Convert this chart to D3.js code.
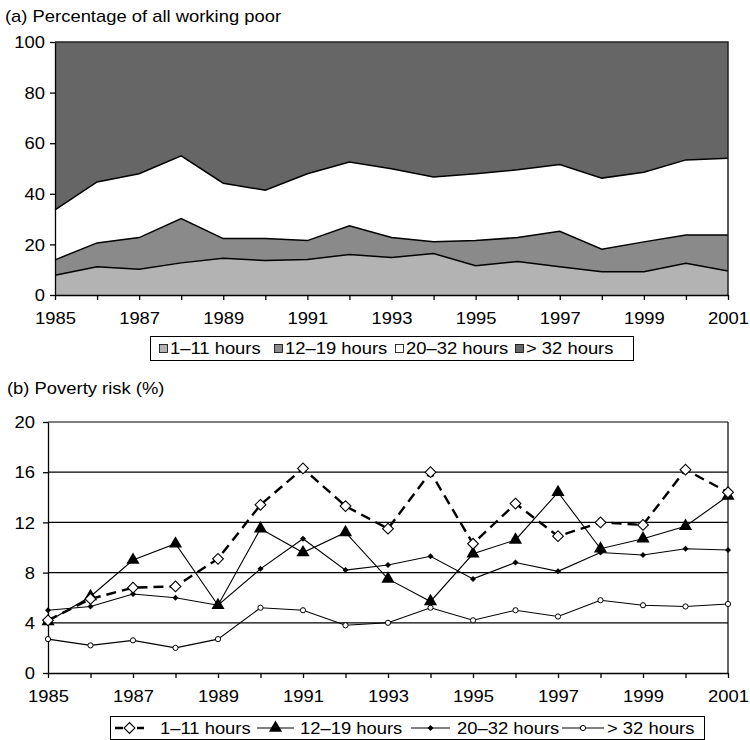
<!DOCTYPE html>
<html>
<head>
<meta charset="utf-8">
<script src="https://cdn.jsdelivr.net/npm/d3@7"></script>
<style>
  body { margin: 0; background: #fff; }
  svg text { font-family: 'Liberation Sans', Arial, sans-serif; font-size: 16px; fill: #000; }
</style>
</head>
<body>
<div id="chart"></div>
<script>
// Years on the x axis (both panels)
const years = [1985, 1986, 1987, 1988, 1989, 1990, 1991, 1992, 1993,
  1994, 1995, 1996, 1997, 1998, 1999, 2000, 2001]
const seriesLabels = ['1–11 hours', '12–19 hours', '20–32 hours', '> 32 hours']

// (a) share of all working poor, %
const share1to11 = [7.8, 11.2, 10.2, 12.7, 14.5, 13.6, 14.0, 16.0, 14.8, 16.4, 11.6, 13.2, 11.2, 9.2, 9.2, 12.5, 9.5]
const share12to19 = [6.1, 9.4, 12.5, 17.5, 7.8, 8.7, 7.5, 11.4, 7.9, 4.6, 9.9, 9.5, 14.0, 8.9, 11.8, 11.2, 14.2]
const share20to32 = [19.7, 24.1, 25.2, 24.8, 21.9, 19.1, 26.4, 25.2, 27.2, 25.6, 26.4, 26.8, 26.4, 28.1, 27.5, 29.7, 30.4]
const shareOver32 = [66.4, 55.3, 52.1, 45.0, 55.8, 58.6, 52.1, 47.4, 50.1, 53.4, 52.1, 50.5, 48.4, 53.8, 51.5, 46.6, 45.9]

// (b) poverty risk, %
const risk1to11 = [4.2, 5.9, 6.8, 6.9, 9.1, 13.4, 16.3, 13.3, 11.5, 16.0, 10.3, 13.5, 10.9, 12.0, 11.8, 16.2, 14.4]
const risk12to19 = [4.1, 6.1, 9.0, 10.3, 5.4, 11.5, 9.6, 11.2, 7.5, 5.7, 9.5, 10.6, 14.4, 9.9, 10.7, 11.7, 14.1]
const risk20to32 = [5.0, 5.3, 6.3, 6.0, 5.4, 8.3, 10.7, 8.2, 8.6, 9.3, 7.5, 8.8, 8.1, 9.6, 9.4, 9.9, 9.8]
const riskOver32 = [2.7, 2.2, 2.6, 2.0, 2.7, 5.2, 5.0, 3.8, 4.0, 5.2, 4.2, 5.0, 4.5, 5.8, 5.4, 5.3, 5.5]

const shareTicks = [0, 20, 40, 60, 80, 100]
const riskTicks = [0, 4, 8, 12, 16, 20]

const areaColors = ['#b3b3b3', '#8a8a8a', '#ffffff', '#666666']
const STRETCH = 'scale(1.15,1)'

const svg = d3.select('#chart').append('svg')
  .attr('width', 750)
  .attr('height', 740)

/**
 * Puts a horizontally stretched label at (x, y).
 */
function label (g, text, x, y, anchor) {
  return g.append('text')
    .attr('transform', 'translate(' + x + ',' + y + ') ' + STRETCH)
    .attr('text-anchor', anchor || 'start')
    .text(text)
}

/**
 * Draws the left and bottom axes of one panel.
 */
function drawAxes (g, x, y, yTicks, yLabelX) {
  const yAxis = g.append('g')
    .attr('transform', 'translate(' + x.range()[0] + ',0)')
    .call(d3.axisLeft(y).tickValues(yTicks).tickSize(5).tickSizeOuter(0))
  yAxis.selectAll('text')
    .attr('x', yLabelX / 1.15)
    .attr('dy', '0.36em')
    .attr('transform', STRETCH)

  const xAxis = g.append('g')
    .attr('transform', 'translate(0,' + y(0) + ')')
    .call(d3.axisBottom(x).tickValues(years).tickSize(5).tickSizeOuter(0)
      .tickFormat(d => d % 2 === 1 ? d : ''))
  xAxis.selectAll('text')
    .attr('y', 29)
    .attr('dy', null)
    .attr('transform', STRETCH)

  g.selectAll('.domain, .tick line').attr('stroke', '#000').attr('stroke-width', 1.3)
  g.selectAll('.tick text').style('font-family', null).style('font-size', null)
  g.selectAll('g').attr('font-family', null).attr('font-size', null)
}

// ---------- (a) stacked area ----------
const x1 = d3.scaleLinear().domain([1985, 2001]).range([55, 728])
const y1 = d3.scaleLinear().domain([0, 100]).range([295, 42])
const gA = svg.append('g')

const shareRows = years.map((yr, i) => ({
  year: yr,
  s0: share1to11[i],
  s1: share12to19[i],
  s2: share20to32[i],
  s3: shareOver32[i]
}))
const stacked = d3.stack().keys(['s0', 's1', 's2', 's3'])(shareRows)

const area = d3.area()
  .x(d => x1(d.data.year))
  .y0(d => y1(d[0]))
  .y1(d => y1(Math.min(d[1], 100)))

gA.selectAll('.layer')
  .data(stacked)
  .join('path')
  .attr('class', 'layer')
  .attr('d', area)
  .attr('fill', (d, i) => areaColors[i])

const topLine = d3.line()
  .x(d => x1(d.data.year))
  .y(d => y1(d[1]))

gA.selectAll('.edge')
  .data(stacked.slice(0, 3))
  .join('path')
  .attr('class', 'edge')
  .attr('d', topLine)
  .attr('fill', 'none')
  .attr('stroke', '#000')
  .attr('stroke-width', 1.5)

// frame top and right
gA.append('path')
  .attr('d', 'M' + x1(1985) + ',' + y1(100) + 'H' + x1(2001) + 'V' + y1(0))
  .attr('fill', 'none')
  .attr('stroke', '#222')
  .attr('stroke-width', 1.5)

drawAxes(gA, x1, y1, shareTicks, -10)
label(svg, '(a) Percentage of all working poor', 5, 22)

// legend (a)
const legA = svg.append('g')
legA.append('rect')
  .attr('x', 150.5).attr('y', 336.5)
  .attr('width', 483).attr('height', 24)
  .attr('fill', '#fff').attr('stroke', '#000')
const legAX = [159, 274, 395, 515]
seriesLabels.forEach((name, i) => {
  legA.append('rect')
    .attr('x', legAX[i] + 0.5).attr('y', 344.5)
    .attr('width', 8).attr('height', 8)
    .attr('fill', areaColors[i])
    .attr('stroke', '#000')
    .attr('stroke-width', 0.8)
  label(legA, name, legAX[i] + 11, 354)
})

// ---------- (b) poverty risk lines ----------
const x2 = d3.scaleLinear().domain([1985, 2001]).range([48, 728])
const y2 = d3.scaleLinear().domain([0, 20]).range([673, 422])
const gB = svg.append('g')

gB.selectAll('.grid')
  .data(riskTicks.slice(1))
  .join('line')
  .attr('class', 'grid')
  .attr('x1', x2(1985)).attr('x2', x2(2001))
  .attr('y1', d => y2(d)).attr('y2', d => y2(d))
  .attr('stroke', '#000')
  .attr('stroke-width', 1.2)

gB.append('line')
  .attr('x1', x2(2001)).attr('x2', x2(2001))
  .attr('y1', y2(20)).attr('y2', y2(0))
  .attr('stroke', '#000')
  .attr('stroke-width', 1.2)

drawAxes(gB, x2, y2, riskTicks, -13)

const riskSeries = [
  { name: seriesLabels[0], values: risk1to11, dash: '10,6', width: 2.4 },
  { name: seriesLabels[1], values: risk12to19, dash: null, width: 1.1 },
  { name: seriesLabels[2], values: risk20to32, dash: null, width: 1.1 },
  { name: seriesLabels[3], values: riskOver32, dash: null, width: 1.1 }
]

/**
 * Appends the marker used by series i, centred on the origin of g.
 */
function marker (g, i) {
  if (i === 0) {
    g.append('path')
      .attr('d', d3.symbol(d3.symbolSquare, 58)())
      .attr('transform', 'rotate(45)')
      .attr('fill', '#fff').attr('stroke', '#000').attr('stroke-width', 1.1)
  } else if (i === 1) {
    g.append('path')
      .attr('d', d3.symbol(d3.symbolTriangle, 75)())
      .attr('fill', '#000')
  } else if (i === 2) {
    g.append('path')
      .attr('d', d3.symbol(d3.symbolSquare, 18)())
      .attr('transform', 'rotate(45)')
      .attr('fill', '#000')
  } else {
    g.append('circle')
      .attr('r', 2.6)
      .attr('fill', '#fff').attr('stroke', '#000').attr('stroke-width', 1)
  }
}

const riskLine = d3.line()
  .x((d, i) => x2(years[i]))
  .y(d => y2(d))

// draw from the back: > 32, 20–32, 12–19, then the dashed 1–11
const drawOrder = [3, 2, 1, 0]
drawOrder.forEach(k => {
  const s = riskSeries[k]
  gB.append('path')
    .attr('d', riskLine(s.values))
    .attr('fill', 'none')
    .attr('stroke', '#000')
    .attr('stroke-width', s.width)
    .attr('stroke-dasharray', s.dash)
  s.values.forEach((v, i) => {
    marker(gB.append('g').attr('transform', 'translate(' + x2(years[i]) + ',' + y2(v) + ')'), k)
  })
})

label(svg, '(b) Poverty risk (%)', 7, 394)

// legend (b)
const legB = svg.append('g')
legB.append('rect')
  .attr('x', 110.5).attr('y', 716.5)
  .attr('width', 594).attr('height', 23)
  .attr('fill', '#fff').attr('stroke', '#000')
const legBLine = [[115, 144], [257, 294], [411, 450], [562, 604]]
const legBText = [160, 300, 457, 607]
riskSeries.forEach((s, i) => {
  const [a, b] = legBLine[i]
  legB.append('line')
    .attr('x1', a).attr('x2', b)
    .attr('y1', 728).attr('y2', 728)
    .attr('stroke', '#000')
    .attr('stroke-width', s.width)
    .attr('stroke-dasharray', i === 0 ? '8,14,8' : null)
  marker(legB.append('g').attr('transform', 'translate(' + (a + b) / 2 + ',728)'), i)
  label(legB, s.name, legBText[i], 734)
})
</script>
</body>
</html>
